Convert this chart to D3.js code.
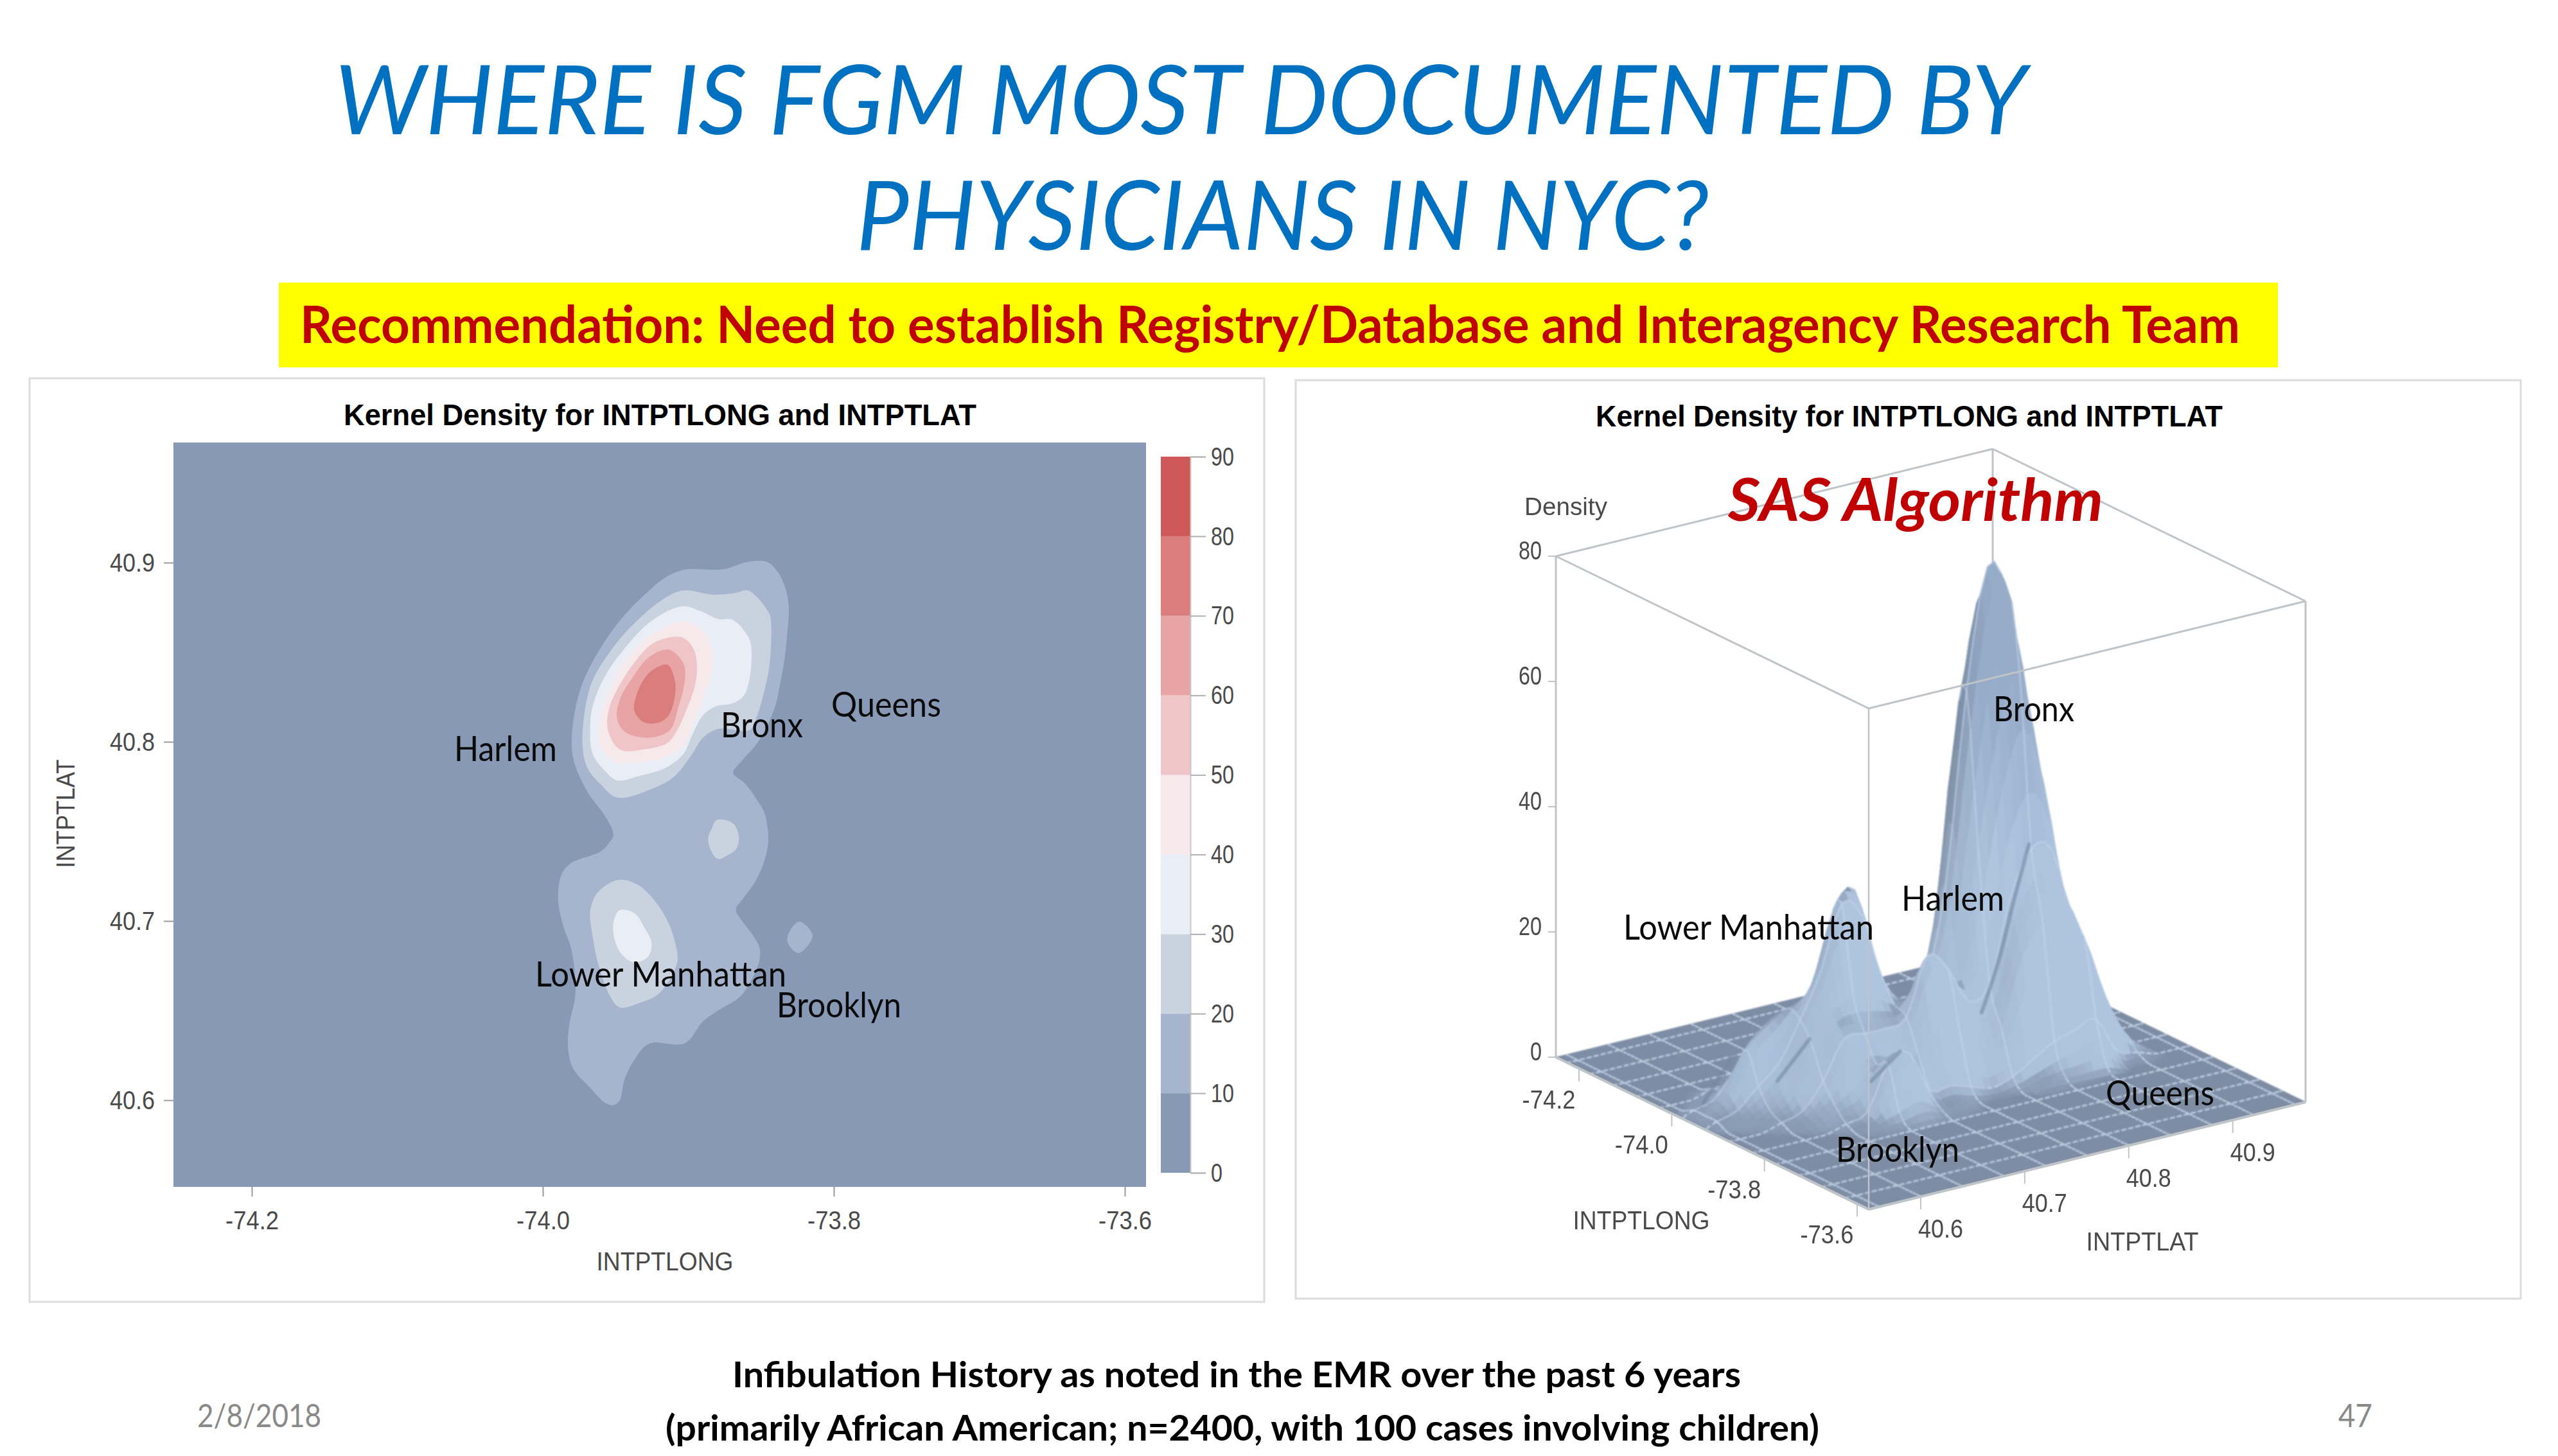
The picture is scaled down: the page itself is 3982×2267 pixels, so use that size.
<!DOCTYPE html>
<html><head><meta charset="utf-8">
<script src="https://cdnjs.cloudflare.com/ajax/libs/d3/7.8.5/d3.min.js"></script>
<style>html,body{margin:0;padding:0;background:#fff}svg{display:block}</style>
</head><body><svg id="c" width="3982" height="2267"></svg>
<script>
// ---------- DATA ----------
const lonTicks = [-74.2,-74.0,-73.8,-73.6];
const latTicks = [40.6,40.7,40.8,40.9];
const bandLevels = [0,10,20,30,40,50,60,70,80,90];
const bandColors = ["#8799b5","#a6b5cd","#c9d3e0","#e9edf5","#f6e9ec","#efc5c7","#e8a3a5","#da7d7c","#ce5857"];
const zTicks = [0,20,40,60,80];

const contour10Main = [[-73.8593,40.9004],[-73.8458,40.9004],[-73.8382,40.8944],[-73.8332,40.8854],[-73.8310,40.8759],[-73.8323,40.8580],[-73.8343,40.8436],[-73.8365,40.8341],[-73.8399,40.8209],[-73.8458,40.8090],[-73.8526,40.7994],[-73.8627,40.7898],[-73.8692,40.7827],[-73.8610,40.7767],[-73.8534,40.7683],[-73.8475,40.7600],[-73.8453,40.7504],[-73.8450,40.7456],[-73.8458,40.7397],[-73.8492,40.7301],[-73.8551,40.7205],[-73.8627,40.7122],[-73.8673,40.7064],[-73.8627,40.6996],[-73.8560,40.6925],[-73.8509,40.6847],[-73.8517,40.6763],[-73.8577,40.6656],[-73.8644,40.6578],[-73.8796,40.6500],[-73.8898,40.6441],[-73.9024,40.6318],[-73.9244,40.6321],[-73.9295,40.6303],[-73.9371,40.6226],[-73.9438,40.6118],[-73.9472,40.5999],[-73.9515,40.5972],[-73.9574,40.5987],[-73.9675,40.6070],[-73.9793,40.6178],[-73.9827,40.6297],[-73.9819,40.6417],[-73.9776,40.6596],[-73.9802,40.6835],[-73.9861,40.6978],[-73.9895,40.7122],[-73.9869,40.7265],[-73.9802,40.7325],[-73.9608,40.7385],[-73.9548,40.7433],[-73.9515,40.7480],[-73.9574,40.7588],[-73.9692,40.7719],[-73.9785,40.7887],[-73.9802,40.8006],[-73.9776,40.8185],[-73.9726,40.8329],[-73.9624,40.8496],[-73.9472,40.8675],[-73.9303,40.8819],[-73.9151,40.8920],[-73.9016,40.8962],[-73.8763,40.8962]];
const contour10Diamond = [[-73.8239,40.6996],[-73.8146,40.6919],[-73.8239,40.6821],[-73.8298,40.6853],[-73.8320,40.6907]];
const contour20North = [[-73.8593,40.8845],[-73.8534,40.8813],[-73.8458,40.8735],[-73.8436,40.8699],[-73.8441,40.8436],[-73.8475,40.8293],[-73.8526,40.8149],[-73.8577,40.8066],[-73.8796,40.8072],[-73.8898,40.8024],[-73.8982,40.7922],[-73.9101,40.7803],[-73.9253,40.7737],[-73.9489,40.7689],[-73.9607,40.7767],[-73.9692,40.7851],[-73.9726,40.7970],[-73.9709,40.8185],[-73.9658,40.8341],[-73.9523,40.8520],[-73.9354,40.8675],[-73.9151,40.8807],[-73.9033,40.8845],[-73.8830,40.8821],[-73.8678,40.8831]];
const contour20Mid = [[-73.8805,40.7564],[-73.8695,40.7546],[-73.8653,40.7474],[-73.8670,40.7403],[-73.8729,40.7367],[-73.8796,40.7346],[-73.8847,40.7397],[-73.8864,40.7462],[-73.8839,40.7516]];
const contour20South = [[-73.9481,40.7229],[-73.9354,40.7205],[-73.9253,40.7134],[-73.9151,40.7014],[-73.9092,40.6883],[-73.9075,40.6775],[-73.9151,40.6644],[-73.9219,40.6584],[-73.9337,40.6542],[-73.9472,40.6518],[-73.9540,40.6584],[-73.9624,40.6775],[-73.9658,40.6919],[-73.9675,40.7050],[-73.9624,40.7158]];
const contour30North = [[-73.9041,40.8756],[-73.8915,40.8729],[-73.8796,40.8685],[-73.8695,40.8681],[-73.8593,40.8592],[-73.8568,40.8532],[-73.8577,40.8364],[-73.8619,40.8257],[-73.8695,40.8215],[-73.8813,40.8197],[-73.8898,40.8149],[-73.8965,40.8054],[-73.9033,40.7934],[-73.9151,40.7857],[-73.9337,40.7809],[-73.9489,40.7785],[-73.9574,40.7839],[-73.9658,40.7934],[-73.9675,40.8066],[-73.9658,40.8197],[-73.9574,40.8364],[-73.9439,40.8520],[-73.9253,40.8675]];
const contour30South = [[-73.9472,40.7060],[-73.9371,40.7044],[-73.9303,40.6966],[-73.9253,40.6877],[-73.9278,40.6799],[-73.9371,40.6769],[-73.9455,40.6811],[-73.9506,40.6895],[-73.9515,40.6990]];
const contour40 = [[-73.9033,40.8673],[-73.8898,40.8615],[-73.8830,40.8496],[-73.8839,40.8388],[-73.8898,40.8245],[-73.8965,40.8102],[-73.9033,40.7982],[-73.9151,40.7916],[-73.9388,40.7881],[-73.9506,40.7887],[-73.9607,40.7982],[-73.9607,40.8125],[-73.9557,40.8269],[-73.9455,40.8424],[-73.9320,40.8556],[-73.9185,40.8627]];
const contour50 = [[-73.9134,40.8582],[-73.9033,40.8580],[-73.8965,40.8520],[-73.8940,40.8424],[-73.8957,40.8305],[-73.9016,40.8173],[-73.9075,40.8066],[-73.9143,40.7994],[-73.9303,40.7958],[-73.9455,40.7952],[-73.9515,40.7994],[-73.9557,40.8090],[-73.9540,40.8197],[-73.9455,40.8341],[-73.9354,40.8460],[-73.9253,40.8544]];
const contour60 = [[-73.9134,40.8514],[-73.9033,40.8436],[-73.9024,40.8341],[-73.9067,40.8197],[-73.9126,40.8066],[-73.9253,40.8024],[-73.9422,40.8048],[-73.9489,40.8125],[-73.9472,40.8233],[-73.9388,40.8353],[-73.9270,40.8472]];
const contour70 = [[-73.9143,40.8430],[-73.9092,40.8341],[-73.9092,40.8257],[-73.9134,40.8149],[-73.9202,40.8108],[-73.9303,40.8108],[-73.9371,40.8173],[-73.9362,40.8245],[-73.9303,40.8352],[-73.9236,40.8406]];

// Surface heights (lat rows, lon columns); zero everywhere else
const surfaceLons = [-74.05,-74.025,-74.0,-73.975,-73.95,-73.925,-73.9,-73.875,-73.85,-73.825,-73.8];
const surfaceLats = [40.92,40.9,40.88,40.86,40.84,40.82,40.8,40.78,40.76,40.74,40.72,40.7,40.68,40.66,40.64,40.62,40.6,40.58,40.56];
const surfaceZ = [
[0,0,0,0,1,1,3,3,3,1,0],
[0,0,0,1,2,6,9,8,10,2,0],
[0,0,0,1,4,13,24,21,20,8,1],
[0,0,1,2,14,36,46,34,24,7,1],
[0,0,1,5,34,72,62,35,24,6,1],
[0,0,2,11,55,79,54,28,19,4,1],
[0,1,3,18,52,60,36,15,9,2,0],
[0,1,2,9,23,30,18,13,6,1,0],
[0,1,2,5,12,15,16,19,10,2,0],
[0,1,4,6,10,13,15,22,11,3,1],
[1,2,6,13,20,17,14,13,8,3,1],
[1,3,6,15,31,28,16,12,7,10,3],
[1,2,5,13,27,31,17,12,8,9,2],
[1,2,5,12,17,21,15,12,5,2,1],
[1,2,5,12,15,14,11,6,3,1,0],
[0,1,4,10,13,8,5,2,1,0,0],
[0,1,2,6,10,5,2,1,0,0,0],
[0,0,1,2,4,2,1,0,0,0,0],
[0,0,0,1,1,1,0,0,0,0,0]];
// Dark folds on the surface: lon, lat, height
const creaseA = [[-73.88,40.84,35.5],[-73.869,40.821,28],[-73.87,40.807,19],[-73.87,40.79,11]];
const creaseB = [[-73.898,40.637,12],[-73.927,40.619,5]];
const creaseC = [[-73.978,40.599,8],[-73.972,40.568,2]];
const creaseD = [[-73.833,40.695,10],[-73.859,40.679,5]];
const floorLons = d3.range(28).map(i=>+(-74.25+i*0.025).toFixed(3));
const floorLats = d3.range(23).map(i=>+(40.98-i*0.02).toFixed(2));
const tickFmt = d => d.toFixed(1);

// ---------- PAGE ----------
const svg = d3.select("#c");
const LATO="Lato, 'Open Sans', sans-serif", SAS="'Liberation Sans', Arial, sans-serif";
function txt(g,s,x,y,o){o=o||{};
  const t=g.append("text").attr("x",x).attr("y",y).text(s)
   .attr("font-family",o.ff||LATO).attr("font-size",o.fs||52).attr("fill",o.c||"#000")
   .attr("text-anchor",o.a||"start");
  if(o.b)t.attr("font-weight",o.b); if(o.i)t.attr("font-style","italic");
  if(o.w)t.attr("textLength",o.w).attr("lengthAdjust","spacingAndGlyphs");
  if(o.t)t.attr("transform",o.t);
  return t;}
const labelW = s => s.length>=5?83:s.length===4?70:s.length===2?36:18;

txt(svg,"WHERE IS FGM MOST DOCUMENTED BY",521,209,{fs:150,i:1,c:"#0070c0",w:2634});
txt(svg,"PHYSICIANS IN NYC?",1333,389,{fs:150,i:1,c:"#0070c0",w:1327});
svg.append("rect").attr("x",434).attr("y",440).attr("width",3112).attr("height",132).attr("fill","#ffff00");
txt(svg,"Recommendation: Need to establish Registry/Database and Interagency Research Team",467,534,{fs:80,b:700,c:"#c00000",w:3020});

[[46,589,1922,1438],[2017,592,1907,1430]].forEach(r=>svg.append("rect").attr("x",r[0]).attr("y",r[1]).attr("width",r[2]).attr("height",r[3]).attr("fill","#fff").attr("stroke","#dcdcdc").attr("stroke-width",3));

txt(svg,"Infibulation History as noted in the EMR over the past 6 years",1140,2160,{fs:56,b:700,w:1570});
txt(svg,"(primarily African American; n=2400, with 100 cases involving children)",1036,2243,{fs:56,b:700,w:1796});
txt(svg,"2/8/2018",307,2222,{fs:50,c:"#898989",w:193});
txt(svg,"47",3640,2222,{fs:50,c:"#898989",w:53});

// ---------- LEFT: CONTOUR MAP ----------
const L=svg.append("g");
const x=d3.scaleLinear().domain([-74.2,-73.6]).range([392,1751]);
const y=d3.scaleLinear().domain([40.9,40.6]).range([876,1713]);
const band=d3.scaleThreshold().domain(bandLevels.slice(1,-1)).range(bandColors);
const px0=x.invert(270),px1=x.invert(1784),py0=y.invert(689),py1=y.invert(1848);
L.append("rect").attr("x",x(px0)).attr("y",y(py0)).attr("width",x(px1)-x(px0)).attr("height",y(py1)-y(py0)).attr("fill",bandColors[0]);
const shape=d3.line().x(d=>x(d[0])).y(d=>y(d[1])).curve(d3.curveCatmullRomClosed.alpha(0.5));
[[10,contour10Main],[10,contour10Diamond],[20,contour20North],[20,contour20Mid],[20,contour20South],
 [30,contour30North],[30,contour30South],[40,contour40],[50,contour50],[60,contour60],[70,contour70]]
 .forEach(c=>L.append("path").attr("d",shape(c[1])).attr("fill",band(c[0]+1)));
txt(L,"Kernel Density for INTPTLONG and INTPTLAT",535,662,{ff:SAS,fs:46,b:700,w:985});
const axC="#4a4a4a";
const gx=L.append("g").attr("transform",`translate(0,${y(py1)})`).call(d3.axisBottom(x).tickValues(lonTicks).tickFormat(tickFmt).tickSize(15).tickPadding(22));
const gy=L.append("g").attr("transform",`translate(${x(px0)},0)`).call(d3.axisLeft(y).tickValues(latTicks).tickFormat(tickFmt).tickSize(15).tickPadding(14));
[gx,gy].forEach(g=>{g.select(".domain").remove();g.selectAll("line").attr("stroke","#9a9a9a").attr("stroke-width",2);
  g.selectAll("text").attr("font-family",SAS).attr("font-size",41).attr("fill",axC)
   .attr("textLength",function(){return labelW(this.textContent);}).attr("lengthAdjust","spacingAndGlyphs");});
txt(L,"INTPTLONG",1035,1978,{ff:SAS,fs:40,c:axC,a:"middle",w:213});
txt(L,"INTPTLAT",0,0,{ff:SAS,fs:40,c:axC,a:"middle",w:169,t:"translate(116,1267) rotate(-90)"});
// colour bar
const cb=d3.scaleLinear().domain([0,90]).range([1826,711]);
L.selectAll(".bar").data(bandColors).join("rect").attr("class","bar").attr("x",1807).attr("width",46)
 .attr("y",(d,i)=>cb(bandLevels[i+1])).attr("height",(d,i)=>cb(bandLevels[i])-cb(bandLevels[i+1])).attr("fill",d=>d);
const gc=L.append("g").attr("transform","translate(1853,0)").call(d3.axisRight(cb).tickValues(bandLevels).tickSize(24).tickPadding(8).tickFormat(d3.format("d")));
gc.select(".domain").attr("stroke","#c8c8c8").attr("stroke-width",2);
gc.selectAll("line").attr("stroke","#b0b0b0").attr("stroke-width",2);
gc.selectAll("text").attr("font-family",SAS).attr("font-size",41).attr("fill",axC)
  .attr("textLength",function(){return labelW(this.textContent);}).attr("lengthAdjust","spacingAndGlyphs");
[["Queens",1294,1116,171],["Bronx",1122,1148,128],["Harlem",707,1185,160],["Lower Manhattan",833,1536,391],["Brooklyn",1209,1584,194]]
 .forEach(a=>txt(L,a[0],a[1],a[2],{fs:54,c:"#0a0a0a",w:a[3]}));

// ---------- RIGHT: 3-D SURFACE ----------
const R=svg.append("g");
txt(R,"Kernel Density for INTPTLONG and INTPTLAT",2484,664,{ff:SAS,fs:46,b:700,w:976});
const fLon=d3.scaleLinear().domain([-74.25,-73.575]).range([0,1]);
const fLat=d3.scaleLinear().domain([40.55,40.97]).range([0,1]).clamp(true);
const zS=d3.scaleLinear().domain([0,80]).range([0,780]);
const O={x:2422,y:1646},U={x:487,y:237},V={x:680,y:-167};
const proj=(lon,lat,z)=>{const a=fLon(lon),b=fLat(lat);return [O.x+a*U.x+b*V.x,O.y+a*U.y+b*V.y-zS(z||0)];};
const boxC="#bfc4c8";
const seg=(g,a,b,w)=>g.append("line").attr("x1",a[0]).attr("y1",a[1]).attr("x2",b[0]).attr("y2",b[1]).attr("stroke",boxC).attr("stroke-width",w||3);
const lonA=-74.25,lonB=-73.575,latA=40.55,latB=40.97;
seg(R,proj(lonA,latB,80),proj(lonA,latB,0));
seg(R,proj(lonA,latA,80),proj(lonA,latB,80));
seg(R,proj(lonA,latB,80),proj(lonB,latB,80));

function zAt(lon,lat){const i=surfaceLons.findIndex(v=>Math.abs(v-lon)<1e-6),j=surfaceLats.findIndex(v=>Math.abs(v-lat)<1e-6);
  return (i<0||j<0)?0:surfaceZ[j][i];}
const nI=floorLons.length,nJ=floorLats.length;
const H=floorLons.map(lon=>floorLats.map(lat=>zAt(lon,lat)));
const cat=(p0,p1,p2,p3,t)=>0.5*((2*p1)+(-p0+p2)*t+(2*p0-5*p1+4*p2-p3)*t*t+(-p0+3*p1-3*p2+p3)*t*t*t);
const SUB=3;
const clampI=(v,n)=>Math.max(0,Math.min(n-1,v));
function hFine(fi,fj){ // renderer smoothing between the read grid nodes
  const i=Math.floor(fi/SUB),j=Math.floor(fj/SUB),s=(fi%SUB)/SUB,t=(fj%SUB)/SUB,col=[];
  for(let a=-1;a<=2;a++){const ii=clampI(i+a,nI);
    col.push(cat(H[ii][clampI(j-1,nJ)],H[ii][clampI(j,nJ)],H[ii][clampI(j+1,nJ)],H[ii][clampI(j+2,nJ)],t));}
  return Math.max(0,cat(col[0],col[1],col[2],col[3],s));}
const NI=(nI-1)*SUB,NJ=(nJ-1)*SUB;
const F=[];for(let i=0;i<=NI;i++){F[i]=[];for(let j=0;j<=NJ;j++)F[i][j]=hFine(i,j);}
const lonF=i=>floorLons[0]+(floorLons[nI-1]-floorLons[0])*i/NI;
const latF=j=>floorLats[0]+(floorLats[nJ-1]-floorLats[0])*j/NJ;
const P=(i,j)=>proj(lonF(i),latF(j),F[i][j]);
const defs=svg.append("defs");
defs.append("filter").attr("id","soft").append("feGaussianBlur").attr("stdDeviation",1.3);
const S=R.append("g").attr("filter","url(#soft)");
const shadeScale=d3.scaleLinear().domain([0,0.3,1.6]).range(["#7d8ca3","#8698b0","#a9bed8"]).clamp(true);
const highMix=d3.scaleLinear().domain([32,58]).range([0,0.85]).clamp(true);
const gridC="#c9d9ee";
// painter's order: back corner first (low lon, high lat)
for(let i=0;i<NI;i++){for(let j=0;j<NJ;j++){
  const a=P(i,j),b=P(i+1,j),c=P(i+1,j+1),d=P(i,j+1);
  const dL=((F[i+1][j]+F[i+1][j+1])-(F[i][j]+F[i][j+1]))/2;  // along lon
  const dT=((F[i][j]+F[i+1][j])-(F[i][j+1]+F[i+1][j+1]))/2;  // along lat, +north
  const steep=Math.hypot(dL,dT);
  const faceRight=(-dL-dT); // facing +lon,+lat: lighter; -lon,-lat: darker
  const zMid=(F[i][j]+F[i+1][j+1])/2;
  const base=d3.interpolateRgb(shadeScale(steep),"#8ea3bf")(highMix(zMid));
  const k=Math.max(-0.25,Math.min(0.06,faceRight*0.02));
  const col=d3.color(base);
  const fill=k<0?col.darker(-k*2.2):col.brighter(k*1.5);
  S.append("path").attr("d",`M${a}L${b}L${c}L${d}Z`).attr("fill",fill.formatHex()).attr("stroke",fill.formatHex()).attr("stroke-width",0.8);
  const low=F[i][j]<1.2&&F[i+1][j]<1.2&&F[i][j+1]<1.2;
  if(j%6===3){S.append("line").attr("x1",a[0]).attr("y1",a[1]).attr("x2",b[0]).attr("y2",b[1]).attr("stroke",gridC).attr("stroke-width",2.4).attr("opacity",low?0.85:0.55).attr("stroke-dasharray",low?"8 6":null);}
  if(i%6===3){S.append("line").attr("x1",a[0]).attr("y1",a[1]).attr("x2",d[0]).attr("y2",d[1]).attr("stroke",gridC).attr("stroke-width",2.4).attr("opacity",low?0.85:0.55).attr("stroke-dasharray",low?"8 6":null);}
}}
const foldLine=d3.line().x(d=>proj(d[0],d[1],d[2])[0]).y(d=>proj(d[0],d[1],d[2])[1]).curve(d3.curveCatmullRom);
[creaseA,creaseB,creaseC,creaseD].forEach(c=>S.append("path").attr("d",foldLine(c)).attr("fill","none").attr("stroke","#7387a3").attr("stroke-width",6).attr("stroke-linecap","round").attr("opacity",0.6));
// front frame
seg(R,proj(lonA,latA,0),proj(lonA,latA,80));
seg(R,proj(lonB,latA,0),proj(lonB,latA,80),2.5);
seg(R,proj(lonB,latB,0),proj(lonB,latB,80));
seg(R,proj(lonA,latA,80),proj(lonB,latA,80));
seg(R,proj(lonB,latA,80),proj(lonB,latB,80));
seg(R,proj(lonA,latA,0),proj(lonB,latA,0),4);
seg(R,proj(lonB,latA,0),proj(lonB,latB,0),4);
// z axis
zTicks.forEach(t=>{const p=proj(lonA,latA,t);seg(R,[p[0]-12,p[1]],p,2);
  txt(R,String(t),p[0]-22,p[1]+5,{ff:SAS,fs:41,c:axC,a:"end",w:labelW(String(t))});});
lonTicks.forEach(t=>{const p=proj(t,latA,0);seg(R,p,[p[0],p[1]+20],2);
  txt(R,tickFmt(t),p[0]-47,p[1]+62,{ff:SAS,fs:41,c:axC,a:"middle",w:83});});
latTicks.forEach(t=>{const p=proj(lonB,t,0);seg(R,p,[p[0],p[1]+20],2);
  txt(R,tickFmt(t),p[0]+31,p[1]+64,{ff:SAS,fs:41,c:axC,a:"middle",w:70});});
txt(R,"Density",2373,802,{ff:SAS,fs:38,c:axC,w:129});
txt(R,"INTPTLONG",2555,1914,{ff:SAS,fs:40,c:axC,a:"middle",w:213});
txt(R,"INTPTLAT",3335,1947,{ff:SAS,fs:40,c:axC,a:"middle",w:175});
txt(R,"SAS Algorithm",2690,811,{fs:92,b:700,i:1,c:"#c00000",w:584});
[["Bronx",3103,1123,126],["Harlem",2960,1418,160],["Lower Manhattan",2527,1463,390],["Queens",3278,1721,169],["Brooklyn",2858,1809,192]]
 .forEach(a=>txt(R,a[0],a[1],a[2],{fs:54,c:"#0a0a0a",w:a[3]}));
</script></body></html>
